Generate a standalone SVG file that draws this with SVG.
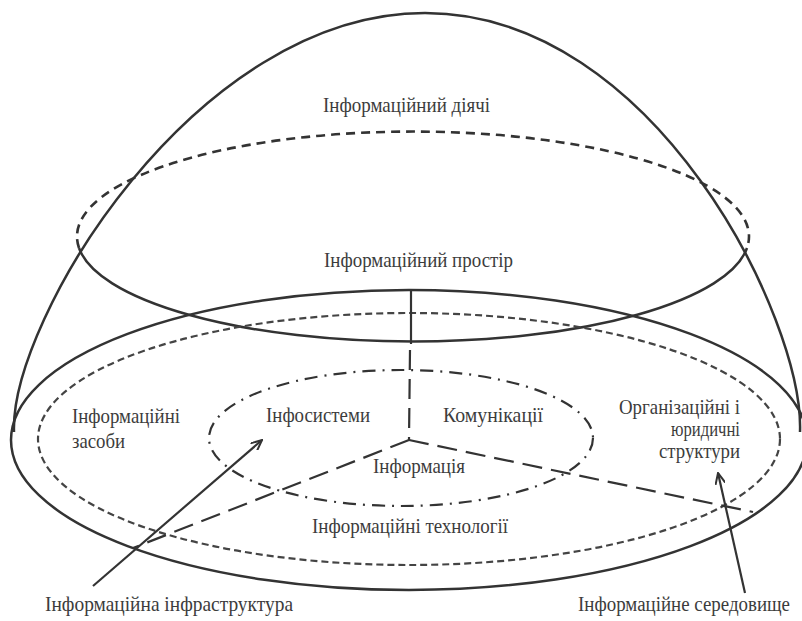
<svg xmlns="http://www.w3.org/2000/svg" width="802" height="621" viewBox="0 0 802 621">
  <defs>
    <marker id="vhead" viewBox="0 0 12 10" refX="11" refY="5" markerWidth="12" markerHeight="10" markerUnits="userSpaceOnUse" orient="auto">
      <path d="M0,0 L11,5 L0,10" fill="none" stroke="#333" stroke-width="2"/>
    </marker>
    <style>
      .solid { fill: none; stroke: #333; stroke-width: 2.5; }
      .dash { fill: none; stroke: #333; stroke-width: 2.6; stroke-dasharray: 9 6; }
      .fine { fill: none; stroke: #444; stroke-width: 2.2; stroke-dasharray: 7 4; }
      .dashdot { fill: none; stroke: #333; stroke-width: 2.2; stroke-dasharray: 13 7 2 7; }
      .ylong { fill: none; stroke: #333; stroke-width: 2.2; stroke-dasharray: 20 9; }
      .arrow { fill: none; stroke: #333; stroke-width: 2.2; marker-end: url(#vhead); }
      text { font-family: "Liberation Serif", "Times New Roman", serif; font-size: 21px; fill: #3c3c3c; }
    </style>
  </defs>
  <rect width="802" height="621" fill="#ffffff"/>

  <g id="dome">
    <path class="solid" d="M14 432 C10 320 195 13 425 13 C655 13 804 320 800 432"/>
    <text x="323" y="112" textLength="167" lengthAdjust="spacingAndGlyphs" font-family="Liberation Serif, serif">Інформаційний діячі</text>
  </g>

  <g id="information-space">
    <path class="dash" d="M79 248 A336 105 0 1 1 747 248"/>
    <path class="solid" d="M747 248 A336 105 0 0 1 79 248"/>
    <text x="324" y="267" textLength="189" lengthAdjust="spacingAndGlyphs" font-family="Liberation Serif, serif">Інформаційний простір</text>
  </g>

  <g id="information-environment">
    <ellipse class="solid" cx="409" cy="440" rx="398" ry="150"/>
  </g>

  <g id="information-technologies">
    <ellipse class="fine" cx="409" cy="439" rx="371" ry="126"/>
    <text x="312" y="533" textLength="196" lengthAdjust="spacingAndGlyphs" font-family="Liberation Serif, serif">Інформаційні технології</text>
  </g>

  <g id="information-core">
    <ellipse class="dashdot" cx="401" cy="438" rx="192" ry="68"/>
  </g>

  <g id="info-means">
    <text x="72" y="423" textLength="108" lengthAdjust="spacingAndGlyphs" font-family="Liberation Serif, serif">Інформаційні</text>
    <text x="72" y="448" textLength="53" lengthAdjust="spacingAndGlyphs" font-family="Liberation Serif, serif">засоби</text>
  </g>

  <g id="infosystems">
    <text x="266" y="422" textLength="104" lengthAdjust="spacingAndGlyphs" font-family="Liberation Serif, serif">Інфосистеми</text>
  </g>

  <g id="communications">
    <text x="443" y="422" textLength="100" lengthAdjust="spacingAndGlyphs" font-family="Liberation Serif, serif">Комунікації</text>
  </g>

  <g id="information">
    <text x="373" y="473" textLength="92" lengthAdjust="spacingAndGlyphs" font-family="Liberation Serif, serif">Інформація</text>
  </g>

  <g id="org-legal">
    <text x="619" y="414" textLength="121" lengthAdjust="spacingAndGlyphs" font-family="Liberation Serif, serif">Організаційні і</text>
    <text x="671" y="436" textLength="69" lengthAdjust="spacingAndGlyphs" font-family="Liberation Serif, serif">юридичні</text>
    <text x="659" y="458" textLength="81" lengthAdjust="spacingAndGlyphs" font-family="Liberation Serif, serif">структури</text>
  </g>

  <g id="infrastructure-label">
    <text x="45" y="611" textLength="248" lengthAdjust="spacingAndGlyphs" font-family="Liberation Serif, serif">Інформаційна інфраструктура</text>
  </g>

  <g id="environment-label">
    <text x="578" y="611" textLength="212" lengthAdjust="spacingAndGlyphs" font-family="Liberation Serif, serif" style="font-size:20px">Інформаційне середовище</text>
  </g>

  <g id="connectors">
    <line class="solid" x1="411" y1="290" x2="411" y2="344" style="stroke-width:2.2"/>
    <line class="ylong" x1="410" y1="350" x2="409" y2="440"/>
    <line class="ylong" x1="409" y1="440" x2="133" y2="548"/>
    <line class="ylong" x1="409" y1="440" x2="753" y2="512"/>
    <line class="arrow" x1="93" y1="586" x2="262" y2="440"/>
    <line class="arrow" x1="745" y1="593" x2="718" y2="473"/>
  </g>
</svg>
